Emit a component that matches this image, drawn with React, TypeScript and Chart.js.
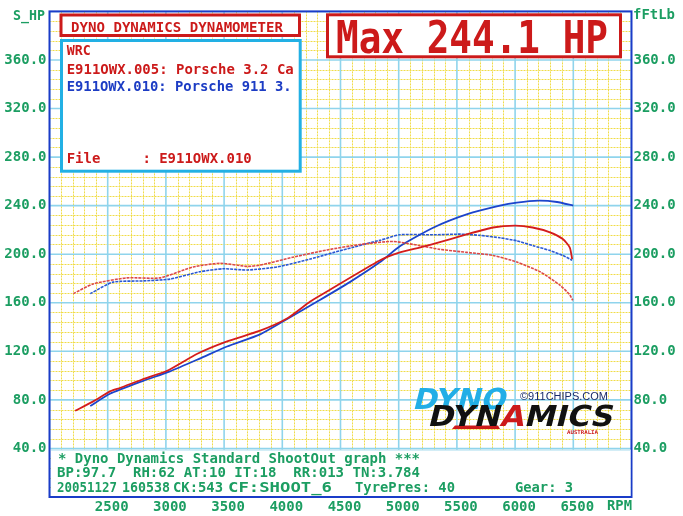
import React, { useEffect, useRef } from 'react';
import { Chart, registerables } from 'chart.js';

Chart.register(...registerables);

// ---------- data ----------
const rpmMin = 2000;
const rpmMax = 7000;
const valMin = 0;
const valMax = 400;
const xTickValues = [2500, 3000, 3500, 4000, 4500, 5000, 5500, 6000, 6500];
const yTickValues = [40, 80, 120, 160, 200, 240, 280, 320, 360];

// E911OWX.005 (red)
const red005PowerRpm = [2220, 2380, 2520, 2610, 2800, 3010, 3270, 3520, 3810, 4040, 4240, 4380, 4840, 5010, 5180, 5300, 5590, 5810, 6000, 6150, 6300, 6410, 6470, 6490];
const red005PowerHp = [71, 79, 87, 90, 97, 104, 118, 128, 137, 147, 161, 169, 195, 201.5, 205.5, 208.5, 216.5, 222, 223.5, 222, 218, 212.5, 205.5, 196];
const red005TorqueRpm = [2205, 2375, 2665, 2950, 3235, 3465, 3700, 3810, 4090, 4385, 4670, 4950, 5185, 5355, 5585, 5810, 6015, 6215, 6385, 6470, 6495];
const red005TorqueFtLb = [167.5, 175.5, 180.5, 180.5, 189.5, 192.5, 190, 191, 197.5, 203.5, 208, 210.5, 207, 204, 201.5, 199, 193.5, 185.5, 174.5, 166.5, 162];

// E911OWX.010 (blue)
const blue010PowerRpm = [2350, 2520, 2800, 3035, 3290, 3525, 3810, 4005, 4300, 4580, 4840, 5010, 5300, 5590, 5870, 6015, 6200, 6360, 6500];
const blue010PowerHp = [75, 85, 95.5, 103.5, 114, 124, 134, 144.5, 161, 177, 193.5, 206.5, 222, 233, 240, 242.5, 244.1, 243, 240];
const blue010TorqueRpm = [2350, 2545, 2805, 3035, 3290, 3490, 3700, 3955, 4240, 4520, 4840, 5010, 5300, 5530, 5700, 5870, 6015, 6155, 6300, 6410, 6490];
const blue010TorqueFtLb = [167.5, 177, 178, 179.5, 185.5, 188, 187, 189.5, 196, 203.5, 211.5, 216, 216, 216.5, 215.5, 213.5, 211, 207, 203, 199, 195];

// ---------- texts ----------
const leftAxisTitle = 'S_HP';
const rightAxisTitle = 'fFtLb';
const xUnit = 'RPM';
const headerText = 'DYNO DYNAMICS DYNAMOMETER';
const maxText = 'Max 244.1 HP';
const legendTitle = 'WRC';
const legendRed = 'E911OWX.005: Porsche 3.2 Ca';
const legendBlue = 'E911OWX.010: Porsche 911 3.';
const legendFile = 'File     : E911OWX.010';
const infoLine1 = '* Dyno Dynamics Standard ShootOut graph ***';
const infoLine2 = 'BP:97.7  RH:62 AT:10 IT:18  RR:013 TN:3.784';
const infoLine3 = ['20051127', '160538', 'CK:543', 'CF:SHOOT_6', 'TyrePres: 40', 'Gear: 3'];

// ---------- style ----------
const RED = '#cc1a1a';
const BLUE = '#1c3cc4';
const GREEN = '#1c9e62';
const CYAN = '#22b0e4';
const MONO = "'DejaVu Sans Mono', 'Liberation Mono', monospace";

const pts = (xs: number[], ys: number[]) => xs.map((x, i) => ({ x, y: ys[i] }));

const gridPlugin = {
  id: 'dynoGrid',
  beforeDatasetsDraw(chart: any) {
    const { ctx, chartArea: a, scales } = chart;
    const xs = scales.x;
    const ys = scales.y;
    ctx.save();
    ctx.beginPath();
    ctx.rect(a.left, a.top, a.right - a.left, a.bottom - a.top);
    ctx.clip();
    ctx.lineWidth = 1;
    ctx.strokeStyle = '#f0dc48';
    ctx.setLineDash([2, 1]);
    for (let r = rpmMin; r <= rpmMax; r += 100) {
      if (r % 500 === 0) continue;
      const px = Math.round(xs.getPixelForValue(r)) + 0.5;
      ctx.beginPath(); ctx.moveTo(px, a.top); ctx.lineTo(px, a.bottom); ctx.stroke();
    }
    for (let v = valMin; v <= valMax; v += 8) {
      if (v % 40 === 0) continue;
      const py = Math.round(ys.getPixelForValue(v)) + 0.5;
      ctx.beginPath(); ctx.moveTo(a.left, py); ctx.lineTo(a.right, py); ctx.stroke();
    }
    ctx.setLineDash([]);
    ctx.strokeStyle = '#8fd4ec';
    ctx.lineWidth = 1.6;
    for (let r = rpmMin; r <= rpmMax; r += 500) {
      const px = xs.getPixelForValue(r);
      ctx.beginPath(); ctx.moveTo(px, a.top); ctx.lineTo(px, a.bottom); ctx.stroke();
    }
    for (let v = valMin; v <= valMax; v += 40) {
      const py = ys.getPixelForValue(v);
      ctx.beginPath(); ctx.moveTo(a.left, py); ctx.lineTo(a.right, py); ctx.stroke();
    }
    ctx.restore();
  },
  afterDatasetsDraw(chart: any) {
    const { ctx, chartArea: a } = chart;
    ctx.save();
    ctx.strokeStyle = '#1a3cc8';
    ctx.lineWidth = 2;
    ctx.strokeRect(a.left, a.top, a.right - a.left, a.bottom - a.top);
    ctx.restore();
  },
};

function T(props: any) {
  const { x, y, w, size = 14, fill, children, weight = 'bold', family = MONO, sy = 1, skew = 0 } = props;
  return (
    <text
      transform={`translate(${x},${y}) scale(1,${sy})${skew ? ` skewX(${skew})` : ''}`}
      x={0}
      y={0}
      fontFamily={family}
      fontWeight={weight}
      fontSize={size}
      fill={fill}
      textLength={w}
      lengthAdjust="spacingAndGlyphs"
      xmlSpace="preserve"
      style={{ whiteSpace: 'pre' }}
    >
      {children}
    </text>
  );
}

export default function App() {
  const ref = useRef<HTMLCanvasElement>(null);

  useEffect(() => {
    const font = { family: MONO, size: 14, weight: 'bold' as const };
    const chart = new Chart(ref.current as HTMLCanvasElement, {
      type: 'line',
      data: {
        datasets: [
          { label: 'E911OWX.005 HP', data: pts(red005PowerRpm, red005PowerHp), borderColor: '#d41c1c', borderWidth: 1.8 },
          { label: 'E911OWX.005 ftlb', data: pts(red005TorqueRpm, red005TorqueFtLb), borderColor: '#dc4848', borderWidth: 1.6, borderDash: [3, 1] },
          { label: 'E911OWX.010 HP', data: pts(blue010PowerRpm, blue010PowerHp), borderColor: '#1c44cc', borderWidth: 1.8 },
          { label: 'E911OWX.010 ftlb', data: pts(blue010TorqueRpm, blue010TorqueFtLb), borderColor: '#2a58d4', borderWidth: 1.6, borderDash: [3, 1] },
        ].map((d) => ({ ...d, pointRadius: 0, fill: false, tension: 0.2, xAxisID: 'x', yAxisID: 'y' })),
      },
      options: {
        responsive: false,
        animation: false,
        devicePixelRatio: 1,
        layout: { padding: { top: 7, left: 0, right: 0, bottom: 0 } },
        plugins: { legend: { display: false }, tooltip: { enabled: false }, title: { display: false } },
        scales: {
          x: {
            type: 'linear',
            position: 'bottom',
            min: rpmMin,
            max: rpmMax,
            afterBuildTicks: (s: any) => { s.ticks = xTickValues.map((v) => ({ value: v })); },
            afterFit: (s: any) => { s.height = 19; },
            grid: { display: false, drawTicks: false },
            border: { display: false },
            ticks: { color: GREEN, font, padding: 2, labelOffset: 4, autoSkip: false, maxRotation: 0, callback: (v: any) => String(v) },
          },
          y: {
            type: 'linear',
            position: 'left',
            min: valMin,
            max: valMax,
            afterBuildTicks: (s: any) => { s.ticks = yTickValues.map((v) => ({ value: v })); },
            afterFit: (s: any) => { s.width = 49.5; },
            grid: { display: false, drawTicks: false },
            border: { display: false },
            ticks: { color: GREEN, font, padding: 3, callback: (v: any) => Number(v).toFixed(1) },
          },
          y2: {
            type: 'linear',
            position: 'right',
            min: valMin,
            max: valMax,
            afterBuildTicks: (s: any) => { s.ticks = yTickValues.map((v) => ({ value: v })); },
            afterFit: (s: any) => { s.width = 51.5; },
            grid: { display: false, drawTicks: false },
            border: { display: false },
            ticks: { color: GREEN, font, padding: 2, callback: (v: any) => Number(v).toFixed(1) },
          },
        },
      } as any,
      plugins: [gridPlugin],
    });
    return () => chart.destroy();
  }, []);

  return (
    <div style={{ position: 'fixed', left: 0, top: 0, width: 683, height: 516, background: '#fff', overflow: 'hidden' }}>
      <canvas ref={ref} width={683} height={516} style={{ position: 'absolute', left: 0, top: 0, width: 683, height: 516 }} />
      <svg width={683} height={516} style={{ position: 'absolute', left: 0, top: 0, pointerEvents: 'none' }}>
        {/* axis titles */}
        <T x={13} y={20} w={32} fill={GREEN}>{leftAxisTitle}</T>
        <T x={633} y={18.5} w={42} fill={GREEN}>{rightAxisTitle}</T>
        <T x={607} y={510} w={25} fill={GREEN}>{xUnit}</T>

        {/* header box */}
        <rect x={61} y={15} width={238.5} height={20.5} fill="#fff" stroke={RED} strokeWidth={3} />
        <T x={71} y={31.5} w={212} fill={RED}>{headerText}</T>

        {/* legend box */}
        <rect x={61.5} y={40.5} width={238.7} height={130.7} fill="#fff" stroke={CYAN} strokeWidth={3} />
        <T x={66.7} y={55} w={24} fill={RED}>{legendTitle}</T>
        <T x={66.7} y={74} w={227} fill={RED}>{legendRed}</T>
        <T x={66.7} y={90.7} w={225} fill={BLUE}>{legendBlue}</T>
        <T x={66.7} y={163.3} w={185} fill={RED}>{legendFile}</T>

        {/* max box */}
        <rect x={327.5} y={14.8} width={293} height={42} fill="#fff" stroke={RED} strokeWidth={3} />
        <T x={336} y={53.3} w={272} size={38} sy={1.18} fill={RED}>{maxText}</T>

        {/* logo */}
        <T x={412} y={409} w={93} size={29} family="'DejaVu Sans', sans-serif" skew={-14} fill="#22aee6">DYNO</T>
        <T x={520} y={400} w={88} size={10} weight="normal" family="'Liberation Sans', Arial, sans-serif" fill="#1a2a6a">©911CHIPS.COM</T>
        <polygon points="452,429 500,429 498,425.5 455,425.5" fill={RED} />
        <text
          transform="translate(427,426) skewX(-14)"
          x={0}
          y={0}
          fontFamily="'DejaVu Sans', sans-serif"
          fontWeight="bold"
          fontSize={29}
          textLength={185}
          lengthAdjust="spacingAndGlyphs"
          fill="#111"
        >
          DYN<tspan fill={RED}>A</tspan>MICS
        </text>
        <T x={567} y={434} w={31} size={5} fill={RED}>AUSTRALIA</T>

        {/* info box */}
        <rect x={51} y={450} width={579.5} height={46} fill="#fff" />
        <line x1={51} y1={450} x2={630.5} y2={450} stroke="#a8dcee" strokeWidth={1} />
        <T x={58} y={463} w={362} fill={GREEN}>{infoLine1}</T>
        <T x={57} y={477} w={363} fill={GREEN}>{infoLine2}</T>
        <T x={57} y={491.5} w={60} fill={GREEN}>{infoLine3[0]}</T>
        <T x={122} y={491.5} w={48} fill={GREEN}>{infoLine3[1]}</T>
        <T x={173} y={491.5} w={50} fill={GREEN}>{infoLine3[2]}</T>
        <T x={228} y={491.5} w={104} fill={GREEN}>{infoLine3[3]}</T>
        <T x={355} y={491.5} w={100} fill={GREEN}>{infoLine3[4]}</T>
        <T x={515} y={491.5} w={58} fill={GREEN}>{infoLine3[5]}</T>
      </svg>
    </div>
  );
}
